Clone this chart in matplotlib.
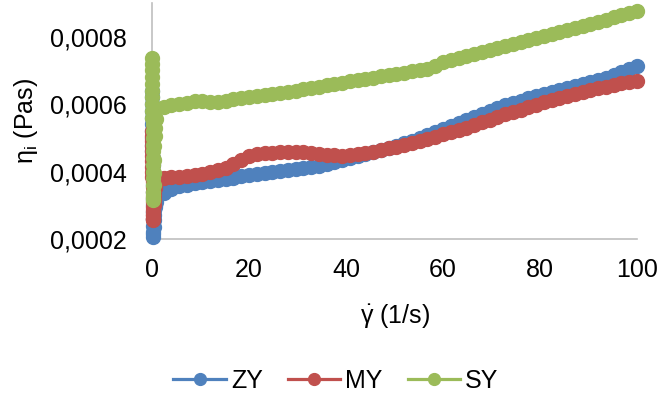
import matplotlib
matplotlib.use("Agg")
import matplotlib.pyplot as plt
from matplotlib.ticker import FixedLocator, FuncFormatter

plt.rcParams["font.family"] = ["Liberation Sans", "DejaVu Sans"]
plt.rcParams["mathtext.fontset"] = "custom"
plt.rcParams["mathtext.rm"] = "Liberation Sans"
plt.rcParams["mathtext.it"] = "Liberation Sans"

# Shear rate (1/s): dense start-up readings followed by the linear ramp
startup_rate = [
    0.01, 0.02, 0.03, 0.04, 0.05, 0.06, 0.07, 0.08, 0.09, 0.10,
    0.11, 0.12, 0.13, 0.14, 0.15, 0.16, 0.17, 0.18, 0.19, 0.20,
    0.22, 0.24, 0.27, 0.30, 0.34, 0.38, 0.43, 0.48, 0.54, 0.60,
]
ramp_rate = [
    0.8, 2.4, 4.0, 5.6, 7.2, 8.8, 10.4, 12.0, 13.6, 15.2, 16.8, 18.4,
    20.0, 21.6, 23.2, 24.8, 26.4, 28.0, 29.6, 31.2, 32.8, 34.4, 36.0, 37.6,
    39.2, 40.8, 42.4, 44.0, 45.6, 47.2, 48.8, 50.4, 52.0, 53.6, 55.2, 56.8,
    58.4, 60.0, 61.6, 63.2, 64.8, 66.4, 68.0, 69.6, 71.2, 72.8, 74.4, 76.0,
    77.6, 79.2, 80.8, 82.4, 84.0, 85.6, 87.2, 88.8, 90.4, 92.0, 93.6, 95.2,
    96.8, 98.4, 100.0,
]
shear_rate = startup_rate + ramp_rate

# Apparent viscosity (Pas)
zy = [
    6.40e-4, 6.20e-4, 6.00e-4, 5.80e-4, 5.60e-4, 5.40e-4, 5.20e-4, 5.00e-4, 4.80e-4, 4.60e-4,
    4.40e-4, 4.20e-4, 4.00e-4, 3.80e-4, 3.60e-4, 3.40e-4, 3.20e-4, 3.00e-4, 2.80e-4, 2.60e-4,
    2.40e-4, 2.20e-4, 2.05e-4, 2.15e-4, 2.35e-4, 2.55e-4, 2.70e-4, 2.85e-4, 2.95e-4, 3.02e-4,
    3.10e-4, 3.35e-4, 3.48e-4, 3.56e-4, 3.61e-4, 3.65e-4, 3.68e-4, 3.71e-4, 3.74e-4, 3.78e-4, 3.82e-4, 3.86e-4,
    3.89e-4, 3.92e-4, 3.95e-4, 3.98e-4, 4.01e-4, 4.04e-4, 4.08e-4, 4.12e-4, 4.15e-4, 4.18e-4, 4.22e-4, 4.27e-4,
    4.33e-4, 4.39e-4, 4.45e-4, 4.51e-4, 4.58e-4, 4.65e-4, 4.71e-4, 4.77e-4, 4.84e-4, 4.92e-4, 5.00e-4, 5.09e-4,
    5.17e-4, 5.25e-4, 5.34e-4, 5.44e-4, 5.53e-4, 5.63e-4, 5.72e-4, 5.81e-4, 5.89e-4, 5.96e-4, 6.03e-4, 6.10e-4,
    6.17e-4, 6.23e-4, 6.29e-4, 6.35e-4, 6.41e-4, 6.47e-4, 6.53e-4, 6.59e-4, 6.65e-4, 6.73e-4, 6.79e-4, 6.86e-4,
    6.94e-4, 7.03e-4, 7.14e-4,
]
my = [
    5.20e-4, 5.05e-4, 4.90e-4, 4.75e-4, 4.60e-4, 4.45e-4, 4.30e-4, 4.15e-4, 4.00e-4, 3.85e-4,
    3.70e-4, 3.55e-4, 3.40e-4, 3.25e-4, 3.10e-4, 2.95e-4, 2.80e-4, 2.70e-4, 2.62e-4, 2.58e-4,
    2.56e-4, 2.60e-4, 2.70e-4, 2.85e-4, 3.00e-4, 3.15e-4, 3.30e-4, 3.42e-4, 3.50e-4, 3.58e-4,
    3.70e-4, 3.82e-4, 3.83e-4, 3.85e-4, 3.87e-4, 3.89e-4, 3.93e-4, 3.98e-4, 4.04e-4, 4.12e-4, 4.22e-4, 4.34e-4,
    4.45e-4, 4.51e-4, 4.54e-4, 4.56e-4, 4.57e-4, 4.58e-4, 4.58e-4, 4.57e-4, 4.56e-4, 4.53e-4, 4.50e-4, 4.48e-4,
    4.47e-4, 4.48e-4, 4.51e-4, 4.55e-4, 4.59e-4, 4.64e-4, 4.69e-4, 4.74e-4, 4.79e-4, 4.85e-4, 4.91e-4, 4.97e-4,
    5.03e-4, 5.10e-4, 5.17e-4, 5.24e-4, 5.30e-4, 5.38e-4, 5.46e-4, 5.54e-4, 5.62e-4, 5.70e-4, 5.77e-4, 5.84e-4,
    5.91e-4, 5.98e-4, 6.05e-4, 6.11e-4, 6.17e-4, 6.23e-4, 6.29e-4, 6.35e-4, 6.41e-4, 6.47e-4, 6.52e-4, 6.57e-4,
    6.62e-4, 6.66e-4, 6.70e-4,
]
sy = [
    7.38e-4, 7.20e-4, 7.00e-4, 6.80e-4, 6.60e-4, 6.40e-4, 6.20e-4, 6.00e-4, 5.80e-4, 5.60e-4,
    5.40e-4, 5.20e-4, 5.00e-4, 4.80e-4, 4.60e-4, 4.40e-4, 4.20e-4, 4.00e-4, 3.80e-4, 3.60e-4,
    3.40e-4, 3.22e-4, 3.15e-4, 3.30e-4, 3.60e-4, 3.95e-4, 4.35e-4, 4.75e-4, 5.05e-4, 5.30e-4,
    5.55e-4, 5.92e-4, 5.97e-4, 6.00e-4, 6.03e-4, 6.09e-4, 6.10e-4, 6.06e-4, 6.07e-4, 6.10e-4, 6.14e-4, 6.18e-4,
    6.21e-4, 6.24e-4, 6.27e-4, 6.30e-4, 6.33e-4, 6.37e-4, 6.40e-4, 6.44e-4, 6.48e-4, 6.52e-4, 6.56e-4, 6.60e-4,
    6.64e-4, 6.68e-4, 6.71e-4, 6.75e-4, 6.79e-4, 6.83e-4, 6.86e-4, 6.90e-4, 6.93e-4, 6.97e-4, 7.00e-4, 7.05e-4,
    7.14e-4, 7.24e-4, 7.31e-4, 7.37e-4, 7.43e-4, 7.49e-4, 7.55e-4, 7.61e-4, 7.66e-4, 7.72e-4, 7.78e-4, 7.84e-4,
    7.90e-4, 7.96e-4, 8.02e-4, 8.08e-4, 8.14e-4, 8.20e-4, 8.26e-4, 8.32e-4, 8.38e-4, 8.44e-4, 8.51e-4, 8.57e-4,
    8.64e-4, 8.71e-4, 8.77e-4,
]

series_names = ["ZY", "MY", "SY"]
series_colors = ["#4F81BD", "#C0504D", "#9BBB59"]
x_ticks = [0, 20, 40, 60, 80, 100]
y_ticks = [0.0002, 0.0004, 0.0006, 0.0008]

W, H = 662, 398
fig = plt.figure(figsize=(W / 100, H / 100), dpi=100)
ax = fig.add_axes([152 / W, 1 - 239 / H, 485 / W, 236 / H])

for name, values, color in zip(series_names, [zy, my, sy], series_colors):
    ax.plot(shear_rate, values, color=color, lw=2.3, marker="o", ms=10,
            mfc=color, mec=color, label=name, clip_on=False, zorder=3)

ax.set_xlim(0, 100)
ax.set_ylim(0.0002, 0.0009)
ax.xaxis.set_major_locator(FixedLocator(x_ticks))
ax.yaxis.set_major_locator(FixedLocator(y_ticks))
ax.yaxis.set_major_formatter(FuncFormatter(lambda v, p: f"{v:.4f}".replace(".", ",")))

for side in ("top", "right"):
    ax.spines[side].set_visible(False)
for side in ("left", "bottom"):
    ax.spines[side].set_color("#BFBFBF")
    ax.spines[side].set_linewidth(1.2)

ax.tick_params(axis="both", length=0, labelsize=18, colors="black")
ax.tick_params(axis="y", pad=18)
ax.tick_params(axis="x", pad=14)

ax.set_xlabel(r"$\mathrm{\dot{\gamma}}$ (1/s)", fontsize=18)
ax.set_ylabel(r"$\mathrm{\eta_i}$ (Pas)", fontsize=18)
ax.xaxis.set_label_coords(0.5, (239 - 302) / 236)
ax.yaxis.set_label_coords((40 - 152) / 485, 0.5)

fig.legend(loc="center", bbox_to_anchor=(336 / W, 1 - 381 / H), ncol=3,
           frameon=False, fontsize=18, handlelength=2.1, handletextpad=0.2,
           columnspacing=1.0, markerscale=0.85)

fig.savefig("out.png", dpi=100)
